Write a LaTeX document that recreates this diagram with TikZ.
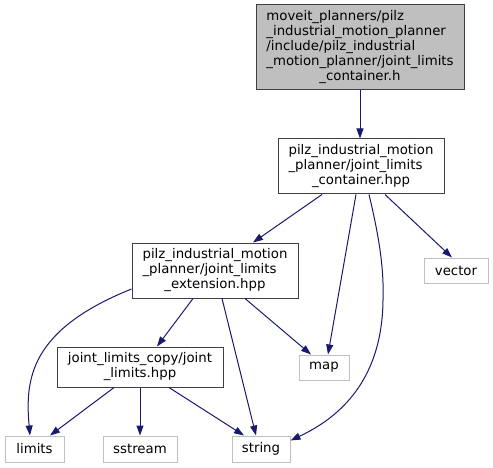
\documentclass[tikz,border=0pt]{standalone}
\usepackage{fontspec}
\setmainfont{DejaVu Sans}
\usetikzlibrary{arrows.meta}
\definecolor{edgecol}{HTML}{191970}
\definecolor{grayb}{HTML}{BFBFBF}
\definecolor{borderc}{HTML}{404040}
\begin{document}
\begin{tikzpicture}[x=1pt,y=-1pt,
  base/.style={line width=1pt, inner sep=0pt, align=center, font=\fontsize{13.3}{15}\selectfont},
  box/.style={base, draw=borderc},
  rootbox/.style={base, draw=borderc, fill=grayb},
  extbox/.style={base, draw=grayb},
  e/.style={draw=edgecol, line width=1pt, -{Triangle[length=10pt,width=7pt]}, fill=none},
  every node/.append style={text=black}]
\useasboundingbox (0,0) rectangle (493,468);

\node[rootbox, minimum width=208pt, minimum height=85pt] (top) at (360,47.5)
  {\begin{tabular}{@{}l@{}}moveit\_planners/pilz\\\_industrial\_motion\_planner\\/include/pilz\_industrial\\\_motion\_planner/joint\_limits\\\multicolumn{1}{@{}c@{}}{\_container.h}\end{tabular}};

\node[box, minimum width=166pt, minimum height=55pt] (cont) at (361,166.5)
  {\begin{tabular}{@{}l@{}}pilz\_industrial\_motion\\\_planner/joint\_limits\\\multicolumn{1}{@{}c@{}}{\_container.hpp}\end{tabular}};

\node[extbox, minimum width=64pt, minimum height=25pt] (vector) at (456,270.5) {vector};

\node[box, minimum width=166pt, minimum height=55pt] (ext) at (215,270.5)
  {\begin{tabular}{@{}l@{}}pilz\_industrial\_motion\\\_planner/joint\_limits\\\multicolumn{1}{@{}c@{}}{\_extension.hpp}\end{tabular}};

\node[box, minimum width=166pt, minimum height=40pt] (jl) at (140,367)
  {\begin{tabular}{@{}l@{}}joint\_limits\_copy/joint\\\multicolumn{1}{@{}c@{}}{\_limits.hpp}\end{tabular}};

\node[extbox, minimum width=50pt, minimum height=25pt] (map) at (324,367.5) {map};
\node[extbox, minimum width=59pt, minimum height=26pt] (limits) at (34.5,449) {limits};
\node[extbox, minimum width=74pt, minimum height=26pt] (sstream) at (140,449) {sstream};
\node[extbox, minimum width=58pt, minimum height=26pt] (string) at (261,449) {string};

% edges
\draw[e] (top.south) -- (top.south |- cont.north);
\draw[e] ([xshift=-39pt]cont.south) -- ([xshift=38pt]ext.north);
\draw[e] ([xshift=-5pt]cont.south) -- ([xshift=4pt]map.north);
\draw[e] ([xshift=8pt]cont.south) .. controls +(11,46) and +(1,-30) .. ([xshift=22pt,yshift=-106pt]cont.south)
   .. controls +(-1,80) and +(49,-23) .. ([yshift=-5pt]string.north east);
\draw[e] ([xshift=24pt]cont.south) -- ([xshift=-4pt]vector.north);
\draw[e] ([yshift=-18.5pt]ext.west) .. controls +(-102,41) and +(-5,-56) .. ([xshift=-4.5pt]limits.north);
\draw[e] ([xshift=-22pt]ext.south) -- ([xshift=17pt]jl.north);
\draw[e] ([xshift=7pt]ext.south) -- ([xshift=-5pt]string.north);
\draw[e] ([xshift=30pt]ext.south) -- ([xshift=-13pt]map.north);
\draw[e] ([xshift=-26pt]jl.south) -- ([xshift=15.5pt]limits.north);
\draw[e] (jl.south) -- (sstream.north);
\draw[e] ([xshift=29pt]jl.south) -- ([xshift=-17pt]string.north);
\end{tikzpicture}
\end{document}
